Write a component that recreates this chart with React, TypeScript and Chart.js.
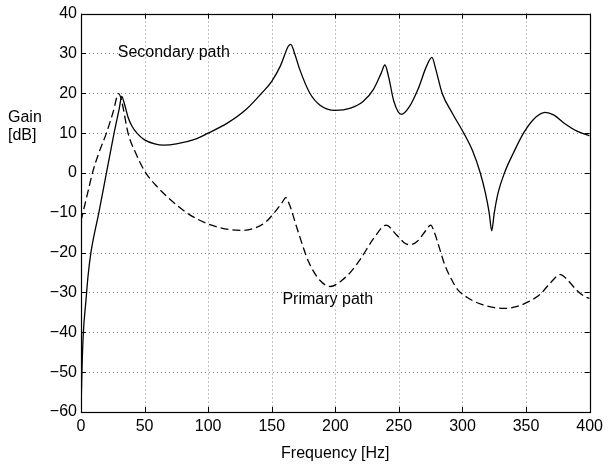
import React, { useEffect, useRef } from "react";
import { Chart, registerables } from "chart.js";

Chart.register(...registerables);

// Frequency (Hz) / gain (dB) readings of the secondary path (solid)
const secondaryFreq = [0, 0.8, 1.8, 3.9, 5.5, 7.8, 14, 20, 26, 30, 32, 34, 37, 40, 44, 50, 58, 65, 75, 90, 100, 115, 130, 142, 150, 157, 163, 165, 168, 172, 180, 188, 200, 212, 222, 230, 236, 239, 242, 246, 252, 258, 265, 272, 276, 279, 284, 292, 301, 308, 314, 318, 321, 323, 325, 328, 333, 340, 348, 356, 365, 372, 380, 390, 400];
const secondaryGain = [-60, -49, -40.4, -32, -26, -20, -10, 0, 10, 16, 19.2, 17.5, 14, 11.8, 10, 8.3, 7.3, 7, 7.3, 8.5, 10, 12.5, 16, 20, 23, 27, 31.8, 32.3, 30, 26, 20, 17, 15.7, 16.3, 18, 21, 25, 27.1, 24, 18, 14.7, 16.5, 21, 27, 29, 26, 20, 15, 10, 5.5, 0, -5, -10, -14.5, -10, -5, 0, 5, 10, 13.5, 15.2, 14.5, 12.5, 10.5, 9.3];

// Primary path (dashed)
const primaryFreq = [0, 3, 6, 9, 14, 20, 25, 29.7, 32, 37, 43, 50, 60, 75, 85, 100, 119, 128, 137, 145, 152, 158, 161, 164, 170, 179, 188, 196, 205, 213, 220, 230, 240, 248, 255, 259, 265, 271, 275, 278, 282, 286, 291, 296, 305, 315, 325, 333, 343, 352, 361, 368, 377, 383, 390, 396, 400];
const primaryGain = [-12, -8, -4, 0, 5, 10, 15, 19.9, 18, 10, 5, 0.5, -3.5, -8, -10.4, -12.8, -14.3, -14.4, -13.8, -12.4, -10, -7.5, -6.2, -8, -14, -22.3, -27, -28.5, -27, -24.5, -21.5, -16.5, -13.1, -15.5, -17.7, -18, -17, -14.5, -13.1, -15, -19, -23, -26.5, -29.2, -31.5, -33, -33.8, -34, -33.5, -32.3, -30.5, -28, -25.5, -27, -29.5, -31, -31.5];

const xTicks = [0, 50, 100, 150, 200, 250, 300, 350, 400];
const yTicks = [-60, -50, -40, -30, -20, -10, 0, 10, 20, 30, 40];

const xTitle = "Frequency [Hz]";
const yTitleLines = ["Gain", "[dB]"];
const labels = [
  { text: "Secondary path", x: 28.9, y: 30.2 },
  { text: "Primary path", x: 158.4, y: -31.7 },
];

const FONT = "'Liberation Sans', Arial, Helvetica, sans-serif";
const FS = 16;

export default function App() {
  const ref = useRef<HTMLCanvasElement | null>(null);

  useEffect(() => {
    document.body.style.margin = "0";
    const canvas = ref.current;
    if (!canvas) return;

    const decor = {
      id: "matlabDecor",
      beforeDatasetsDraw(chart: any) {
        const { ctx, chartArea: a, scales } = chart;
        ctx.save();
        ctx.strokeStyle = "#8a8a8a";
        ctx.lineWidth = 1;
        ctx.setLineDash([1, 3]);
        for (const v of xTicks) {
          const px = Math.round(scales.x.getPixelForValue(v)) + 0.5;
          if (px <= a.left + 1 || px >= a.right - 1) continue;
          ctx.beginPath();
          ctx.moveTo(px, a.top);
          ctx.lineTo(px, a.bottom);
          ctx.stroke();
        }
        for (const v of yTicks) {
          const py = Math.round(scales.y.getPixelForValue(v)) + 0.5;
          if (py <= a.top + 1 || py >= a.bottom - 1) continue;
          ctx.beginPath();
          ctx.moveTo(a.left, py);
          ctx.lineTo(a.right, py);
          ctx.stroke();
        }
        ctx.restore();
      },
      afterDatasetsDraw(chart: any) {
        const { ctx, chartArea: a, scales } = chart;
        ctx.save();
        ctx.setLineDash([]);
        ctx.strokeStyle = "#000";
        ctx.lineWidth = 1.2;
        ctx.strokeRect(Math.round(a.left) + 0.5, Math.round(a.top) + 0.5, Math.round(a.right - a.left), Math.round(a.bottom - a.top));
        const tl = 5;
        ctx.lineWidth = 1;
        for (const v of xTicks) {
          const px = Math.round(scales.x.getPixelForValue(v)) + 0.5;
          ctx.beginPath();
          ctx.moveTo(px, a.bottom);
          ctx.lineTo(px, a.bottom - tl);
          ctx.moveTo(px, a.top);
          ctx.lineTo(px, a.top + tl);
          ctx.stroke();
        }
        for (const v of yTicks) {
          const py = Math.round(scales.y.getPixelForValue(v)) + 0.5;
          ctx.beginPath();
          ctx.moveTo(a.left, py);
          ctx.lineTo(a.left + tl, py);
          ctx.moveTo(a.right, py);
          ctx.lineTo(a.right - tl, py);
          ctx.stroke();
        }
        ctx.fillStyle = "#000";
        ctx.font = `${FS}px ${FONT}`;
        ctx.textBaseline = "middle";
        ctx.textAlign = "left";
        for (const l of labels) {
          ctx.fillText(l.text, scales.x.getPixelForValue(l.x), scales.y.getPixelForValue(l.y));
        }
        ctx.fillText(yTitleLines[0], 8, 118);
        ctx.fillText(yTitleLines[1], 8, 136);
        ctx.textAlign = "center";
        ctx.fillText(xTitle, (a.left + a.right) / 2, 454);
        ctx.restore();
      },
    };

    const chart = new Chart(canvas, {
      type: "line",
      data: {
        datasets: [
          {
            label: "Secondary path",
            data: secondaryFreq.map((f, i) => ({ x: f, y: secondaryGain[i] })),
            borderColor: "#000",
            borderWidth: 1.3,
            pointRadius: 0,
            cubicInterpolationMode: "monotone",
            fill: false,
          },
          {
            label: "Primary path",
            data: primaryFreq.map((f, i) => ({ x: f, y: primaryGain[i] })),
            borderColor: "#000",
            borderWidth: 1.3,
            borderDash: [8, 4],
            pointRadius: 0,
            cubicInterpolationMode: "monotone",
            fill: false,
          },
        ],
      },
      options: {
        animation: false,
        responsive: false,
        maintainAspectRatio: false,
        layout: { padding: { left: 0, top: 9, right: 15, bottom: 0 } },
        plugins: { legend: { display: false }, tooltip: { enabled: false } },
        scales: {
          x: {
            type: "linear",
            min: 0,
            max: 400,
            afterFit: (s: any) => { s.height = 56; },
            afterBuildTicks: (s: any) => { s.ticks = xTicks.map((v) => ({ value: v })); },
            grid: { display: false, drawTicks: false },
            border: { display: false },
            ticks: {
              color: "#000",
              font: { family: FONT, size: FS },
              padding: 5,
              maxRotation: 0,
              autoSkip: false,
            },
          },
          y: {
            type: "linear",
            min: -60,
            max: 40,
            afterFit: (s: any) => { s.width = 81; },
            afterBuildTicks: (s: any) => { s.ticks = yTicks.map((v) => ({ value: v })); },
            grid: { display: false, drawTicks: false },
            border: { display: false },
            ticks: {
              color: "#000",
              font: { family: FONT, size: FS },
              padding: 4,
              autoSkip: false,
              callback: (v: any) => String(v).replace("-", "\u2212"),
            },
          },
        },
      },
      plugins: [decor],
    } as any);

    return () => chart.destroy();
  }, []);

  return (
    <div style={{ position: "fixed", left: 0, top: 0, width: 608, height: 468 }}>
      <canvas ref={ref} width={608} height={468} style={{ width: 608, height: 468, display: "block" }} />
    </div>
  );
}
